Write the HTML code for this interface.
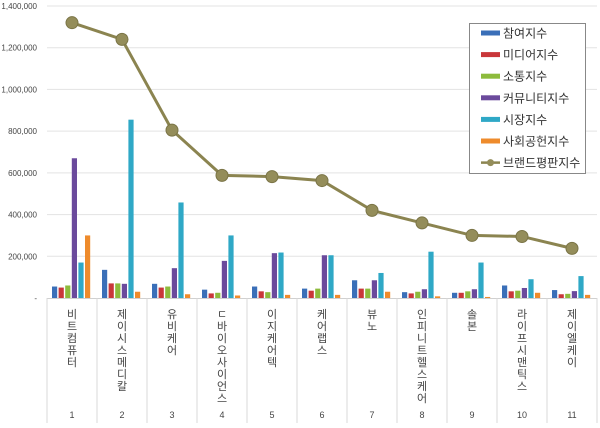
<!DOCTYPE html>
<html><head><meta charset="utf-8"><style>
body{margin:0;background:#fff;}
svg text{font-family:"Liberation Sans","Noto Sans CJK KR",sans-serif;}
</style></head><body>
<svg id="c" width="600" height="423" xmlns="http://www.w3.org/2000/svg"></svg>
<script>
const categories=["비트컴퓨터","제이시스메디칼","유비케어","ㄷ바이오사이언스","이지케어텍","케어랩스","뷰노","인피니트헬스케어","솔본","라이프시맨틱스","제이엘케이"];
const seriesNames=["참여지수","미디어지수","소통지수","커뮤니티지수","시장지수","사회공헌지수"];
const seriesColors=["#3a6fb8","#c9373a","#8dbb3c","#6b4a9c","#2fa8c6","#ee8b2c"];
const participation=[55000,135000,68000,40000,55000,45000,85000,28000,25000,60000,38000];
const media=[50000,70000,50000,22000,32000,35000,45000,22000,25000,32000,18000];
const communication=[60000,70000,55000,25000,28000,45000,45000,30000,32000,35000,20000];
const community=[670000,68000,143000,178000,215000,205000,85000,42000,42000,48000,33000];
const market=[170000,855000,458000,300000,218000,205000,120000,222000,170000,90000,105000];
const social=[300000,30000,18000,12000,15000,15000,30000,8000,5000,25000,15000];
const brandIndex=[1320000,1240000,805000,588000,582000,563000,420000,360000,300000,295000,238000];
const yTicks=[0,200000,400000,600000,800000,1000000,1200000,1400000];
const yTickLabels=["-","200,000","400,000","600,000","800,000","1,000,000","1,200,000","1,400,000"];
const series=[participation,media,communication,community,market,social];

const svg=document.getElementById('c');const NS="http://www.w3.org/2000/svg";
const X0=47,BW=50,Y0=298,YMAX=1400000,YTOP=6;
const yS=v=>Y0-(v/YMAX)*(Y0-YTOP);
const xC=i=>X0+BW*i+BW/2;
function mk(t,a,p){const e=document.createElementNS(NS,t);for(const k in a)e.setAttribute(k,a[k]);(p||svg).appendChild(e);return e;}
yTicks.forEach((v,i)=>{
 if(v>0){const g=mk('line',{x1:X0,x2:597,y1:yS(v),y2:yS(v),stroke:'#e3e3e3','stroke-width':1});
 
 }
 const t=mk('text',{x:37,y:yS(v)+3,'text-anchor':'end','font-size':8,fill:'#444'});t.textContent=yTickLabels[i];
 
 
});
const ax=mk('line',{x1:X0,x2:597,y1:Y0+0.5,y2:Y0+0.5,stroke:'#d0d0d0'});


for(let i=0;i<=categories.length;i++){const d=mk('line',{x1:X0+BW*i,x2:X0+BW*i,y1:Y0,y2:423,stroke:'#d8d8d8'});
 
 }
const barW=5.2,step=6.6;
categories.forEach((c,i)=>{
 series.forEach((s,j)=>{
  const x=xC(i)-20+j*step;const y=yS(s[i]);
  const r=mk('rect',{x:x,y:y,width:barW,height:Y0-y,fill:seriesColors[j]});
  
  
 });
 const lab=mk('text',{'font-size':11,fill:'#444','text-anchor':'middle'});
 
 
 [...c].forEach((ch,k)=>{const ts=mk('tspan',{x:xC(i),y:318+k*12},lab);ts.textContent=ch;});
 const n=mk('text',{x:xC(i),y:418,'font-size':9,fill:'#444','text-anchor':'middle'});n.textContent=String(i+1);
 
 
});
const pts=brandIndex.map((v,i)=>xC(i)+','+yS(v)).join(' ');
const pl=mk('polyline',{points:pts,fill:'none',stroke:'#8b8450','stroke-width':3});


brandIndex.forEach((v,i)=>{const m=mk('circle',{cx:xC(i),cy:yS(v),r:6,fill:'#948d5a',stroke:'#7a7446','stroke-width':1});
 
 });
const lg=mk('g',{});


mk('rect',{x:469.5,y:23.5,width:116,height:150,fill:'#fff',stroke:'#888'},lg);
const names=seriesNames.concat(["브랜드평판지수"]);
names.forEach((nm,k)=>{
 const y=33+k*21.6;
 if(k<6){mk('rect',{x:481,y:y-2.5,width:19,height:5,fill:seriesColors[k]},lg);}
 else{mk('line',{x1:481,x2:500,y1:y,y2:y,stroke:'#8b8450','stroke-width':2.5},lg);mk('circle',{cx:490.5,cy:y,r:3.5,fill:'#948d5a'},lg);}
 const t=mk('text',{x:503,y:y+4.5,'font-size':12,fill:'#333'},lg);t.textContent=nm;
 
 
});
</script>
</body></html>
